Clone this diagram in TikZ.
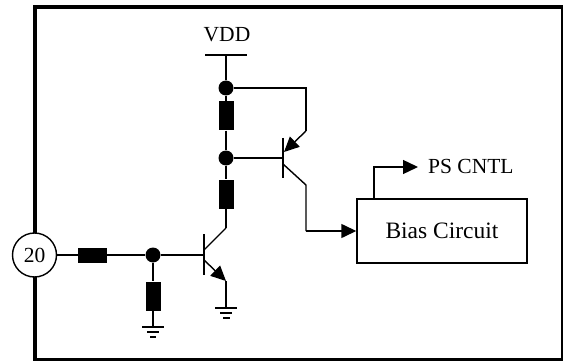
\documentclass[tikz,border=0pt]{standalone}
\usepackage{fontspec}
\setmainfont{Liberation Serif}
\usetikzlibrary{arrows.meta}
\tikzset{
  wire/.style={line width=1.4pt},
  arrowwire/.style={wire,-{Triangle[length=15pt,width=14pt]}},
  dotnode/.style={circle,fill=black,minimum size=15pt,inner sep=0pt},
  resv/.style={rectangle,fill=black,minimum width=15pt,minimum height=29pt,inner sep=0pt},
  resh/.style={rectangle,fill=black,minimum width=29pt,minimum height=15pt,inner sep=0pt},
  label/.style={inner sep=0pt,font=\fontsize{21.5}{24}\selectfont}
}
\begin{document}
\begin{tikzpicture}[x=1pt,y=-1pt]
    \useasboundingbox (0,0) rectangle (563,361);
    % frame
    \draw[line width=4pt] (34.5,7) rectangle (562.5,360);
    \node[circle,draw,line width=1.4pt,fill=white,minimum size=44pt,inner sep=0pt,label] (pin) at (34.5,255) {20};

    % supply side
    \node[label] (vdd) at (227,35) {VDD};
    \coordinate (vddtop) at (226,55);
    \draw[wire] (205,55) -- (247,55);
    \node[dotnode] (dota) at (226,88) {};
    \node[resv] (ra) at (226,116) {};
    \node[dotnode] (dotb) at (226,158) {};
    \node[resv] (rb) at (226,194) {};
    \coordinate (collq) at (226,228);
    \draw[wire] (vddtop) -- (dota) -- (ra) -- (dotb) -- (rb) -- (collq);

    % upper transistor
    \coordinate (baseb) at (283,158);
    \coordinate (emb) at (284,152);
    \coordinate (embend) at (306,131);
    \coordinate (corner) at (306,88);
    \coordinate (colb) at (283,164);
    \coordinate (colbend) at (306,185);
    \coordinate (colbdown) at (306,231);
    \draw[line width=2.6pt] (283,138) -- (283,178);
    \draw[wire] (dotb) -- (baseb);
    \draw[wire] (dota) -- (corner) -- (embend);
    \draw[arrowwire] (embend) -- (emb);
    \draw[wire] (colb) -- (colbend) -- (colbdown);

    % bias block
    \node[draw,line width=1.4pt,minimum width=170pt,minimum height=64pt,inner sep=0pt,
          font=\fontsize{23.5}{26}\selectfont] (bias) at (442,231) {Bias Circuit};
    \draw[arrowwire] (colbdown) -- (bias.west);
    \coordinate (psup) at (374,167);
    \node[label,anchor=west] (ps) at (428,166) {PS CNTL};
    \draw[arrowwire] (bias.north west -| psup) -- (psup) -- (418,167);

    % input side
    \node[resh] (rin) at (92.5,255) {};
    \node[dotnode] (dotc) at (153,255) {};
    \node[resv] (rc) at (153,296) {};
    \coordinate (basea) at (204,255);
    \coordinate (gnda) at (153,327);
    \draw[wire] (pin) -- (rin) -- (dotc) -- (basea);
    \draw[wire] (dotc) -- (rc) -- (gnda);
    \draw[wire] (142,327) -- (164,327) (147,332) -- (159,332) (150,337) -- (156,337);

    % lower transistor
    \coordinate (cola) at (204,250);
    \coordinate (ema) at (204,260);
    \coordinate (emabend) at (226,281);
    \coordinate (gndb) at (226,308);
    \draw[line width=2.6pt] (204,234) -- (204,275);
    \draw[wire] (cola) -- (collq);
    \draw[arrowwire] (ema) -- (emabend);
    \draw[wire] (emabend) -- (gndb);
    \draw[wire] (215,308) -- (237,308) (220,313) -- (232,313) (223,318) -- (230,318);
\end{tikzpicture}
\end{document}
